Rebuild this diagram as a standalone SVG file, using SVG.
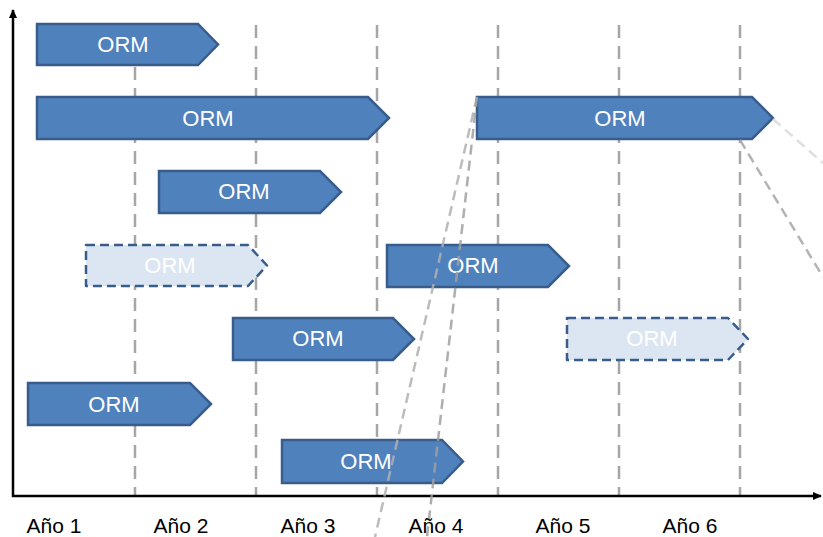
<svg xmlns="http://www.w3.org/2000/svg" width="823" height="537" viewBox="0 0 823 537">
<style>
.grid{stroke:#a6a6a6;stroke-width:2.5;stroke-dasharray:13 8;fill:none}
.axis{stroke:#000;stroke-width:2.5;fill:none}
.bar{fill:#4f81bd;stroke:#385d8a;stroke-width:2.5;stroke-linejoin:miter}
.ghost{fill:#dce6f2;stroke:#385d8a;stroke-width:2.5;stroke-dasharray:9 5;stroke-linejoin:round}
.lbl{font-family:"Liberation Sans",Arial,sans-serif;font-size:22px;fill:#fff;text-anchor:middle}
.yr{font-family:"Liberation Sans",Arial,sans-serif;font-size:21px;fill:#000;text-anchor:middle}
.diag{stroke:#b0b0b0;stroke-width:2.5;stroke-dasharray:10 6;fill:none;opacity:0.85}
</style>
<defs>
<marker id="ah" markerWidth="10" markerHeight="10" refX="8" refY="5" orient="auto" markerUnits="userSpaceOnUse">
<path d="M0,1 L9,5 L0,9 z" fill="#000"/>
</marker>
</defs>
<g id="grid">
<line class="grid" x1="135" y1="25" x2="135" y2="495"/>
<line class="grid" x1="256" y1="25" x2="256" y2="495"/>
<line class="grid" x1="377" y1="25" x2="377" y2="495"/>
<line class="grid" x1="498" y1="25" x2="498" y2="495"/>
<line class="grid" x1="619" y1="25" x2="619" y2="495"/>
<line class="grid" x1="740" y1="25" x2="740" y2="495"/>
</g>
<g id="axes">
<line class="axis" x1="13" y1="497" x2="13" y2="10" marker-end="url(#ah)"/>
<line class="axis" x1="12" y1="496" x2="821" y2="496" marker-end="url(#ah)"/>
</g>
<g id="n1"><path class="bar" d="M37,24 H198 L218,44.5 L198,65 H37 Z"/><text class="lbl" x="123" y="52">ORM</text></g>
<g id="n2"><path class="bar" d="M37,97 H368 L389,118 L368,139 H37 Z"/><text class="lbl" x="208" y="126">ORM</text></g>
<g id="n3"><path class="bar" d="M477,97 H752 L773,118 L752,139 H477 Z"/><text class="lbl" x="620" y="126">ORM</text></g>
<g id="n4"><path class="bar" d="M159,171 H320 L341,192 L320,213 H159 Z"/><text class="lbl" x="244" y="199">ORM</text></g>
<g id="n5"><path class="ghost" d="M86,245 H248 L267,265.5 L248,286 H86 Z"/><text class="lbl" x="170" y="273">ORM</text></g>
<g id="n6"><path class="bar" d="M387,245 H548 L569,266 L548,287 H387 Z"/><text class="lbl" x="473" y="273">ORM</text></g>
<g id="n7"><path class="bar" d="M233,318 H393 L414,339 L393,360 H233 Z"/><text class="lbl" x="318" y="346">ORM</text></g>
<g id="n8"><path class="ghost" d="M567,318 H728 L748,339 L728,360 H567 Z"/><text class="lbl" x="652" y="346">ORM</text></g>
<g id="n9"><path class="bar" d="M28,383 H190 L211,404 L190,425 H28 Z"/><text class="lbl" x="114" y="412">ORM</text></g>
<g id="n10"><path class="bar" d="M282,440 H442 L463,461.5 L442,483 H282 Z"/><text class="lbl" x="366" y="469">ORM</text></g>
<g id="connectors">
<line class="diag" x1="477" y1="97" x2="375" y2="537"/>
<line class="diag" x1="477" y1="97" x2="427" y2="537" style="stroke:#a0a0a0"/>
<line class="diag" x1="773" y1="119" x2="823" y2="163" style="stroke:#d9d9d9"/>
<line class="diag" x1="740" y1="140" x2="823" y2="277" style="stroke:#a6a6a6"/>
</g>
<g id="labels">
<text class="yr" x="54" y="533">Año 1</text>
<text class="yr" x="181" y="533">Año 2</text>
<text class="yr" x="308" y="533">Año 3</text>
<text class="yr" x="436" y="533">Año 4</text>
<text class="yr" x="563" y="533">Año 5</text>
<text class="yr" x="690" y="533">Año 6</text>
</g>
</svg>
